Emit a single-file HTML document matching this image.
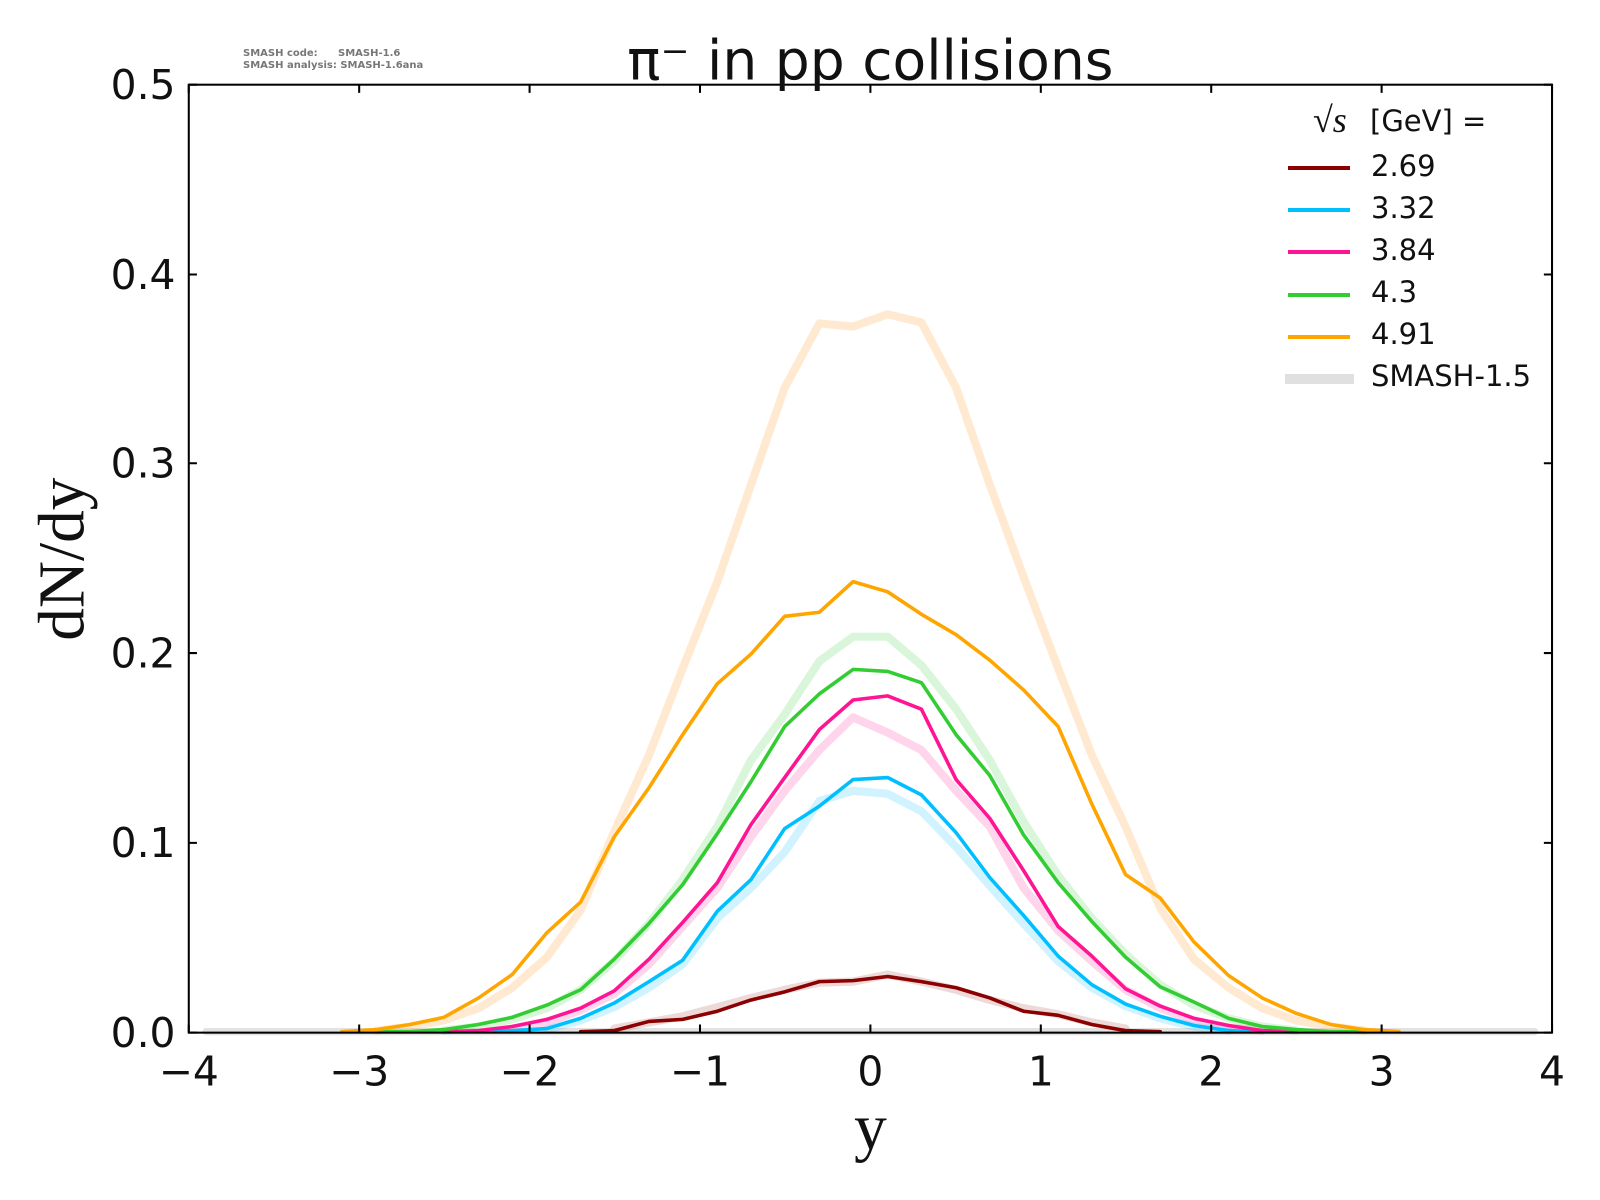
<!DOCTYPE html>
<html><head><meta charset="utf-8"><style>body{margin:0;background:#fff}svg{display:block}</style></head><body>
<svg width="1600" height="1200" viewBox="0 0 1600 1200" xmlns="http://www.w3.org/2000/svg" font-family="DejaVu Sans, Liberation Sans, sans-serif">
<rect width="1600" height="1200" fill="#fff"/>
<g transform="scale(1.0204)">
<g fill="none" stroke-linejoin="round" stroke-linecap="round">
<polyline stroke="#e2e2e2" stroke-width="7" points="202,1011 1504,1011"/>
<polyline stroke="#ff8c00" stroke-opacity="0.18" stroke-width="8" points="369,1010 402,1006 435,1000 469,988 502,968 536,938 569,892 602,815 636,740 669,655 703,570 736,475 769,380 803,317 836,320 870,308 903,316 937,380 970,475 1003,565 1037,655 1070,740 1103,810 1137,890 1170,940 1204,968 1237,988 1270,1000 1304,1006 1337,1010"/>
<polyline stroke="#32cd32" stroke-opacity="0.18" stroke-width="8" points="435,1010 469,1006 502,999 536,988 569,970 602,942 636,905 669,862 703,810 736,745 769,700 803,648 836,624 870,624 903,652 937,695 970,745 1003,805 1037,858 1070,900 1103,935 1137,965 1170,985 1204,998 1237,1006 1270,1010"/>
<polyline stroke="#ff1493" stroke-opacity="0.18" stroke-width="8" points="502,1008 536,1002 569,990 602,974 636,945 669,908 703,870 736,820 769,775 803,735 836,703 870,718 903,735 937,775 970,810 1003,870 1037,912 1070,942 1103,970 1137,988 1170,1000 1204,1007 1237,1010"/>
<polyline stroke="#00bfff" stroke-opacity="0.18" stroke-width="8" points="536,1009 569,1000 602,987 636,968 669,945 703,900 736,870 769,835 803,785 836,775 870,778 903,795 937,830 970,868 1003,905 1037,942 1070,968 1103,986 1137,998 1170,1006 1204,1010"/>
<polyline stroke="#8b0000" stroke-opacity="0.15" stroke-width="8" points="602,1008 636,1002 669,996 703,987 736,978 769,970 803,963 836,962 870,955 903,962 937,970 970,980 1003,988 1037,994 1070,1002 1103,1008"/>
<polyline stroke="#8b0000" stroke-width="3.5" points="569,1011 602,1010 636,1001 669,999 703,991 736,980 769,972 803,962 836,961 870,957 903,962 937,968 970,978 1003,991 1037,995 1070,1004 1103,1010 1137,1011"/>
<polyline stroke="#00bfff" stroke-width="3.5" points="469,1011 502,1010 536,1008 569,998 602,983 636,962 669,941 703,893 736,862 769,812 803,790 836,764 870,762 903,779 937,816 970,860 1003,897 1037,937 1070,965 1103,984 1137,996 1170,1005 1204,1010 1237,1011"/>
<polyline stroke="#ff1493" stroke-width="3.5" points="435,1011 469,1010 502,1006 536,999 569,988 602,971 636,940 669,904 703,865 736,808 769,762 803,715 836,686 870,682 903,695 937,764 970,802 1003,853 1037,908 1070,937 1103,969 1137,986 1170,998 1204,1005 1237,1010 1270,1011"/>
<polyline stroke="#32cd32" stroke-width="3.5" points="369,1011 402,1011 435,1009 469,1004 502,997 536,985 569,970 602,940 636,905 669,867 703,817 736,766 769,712 803,680 836,656 870,658 903,669 937,720 970,760 1003,818 1037,865 1070,903 1103,938 1137,967 1170,982 1204,998 1237,1006 1270,1009 1304,1011 1337,1011"/>
<polyline stroke="#ffa500" stroke-width="3.5" points="335,1011 369,1009 402,1004 435,997 469,978 502,955 536,914 569,884 602,820 636,772 669,720 703,670 736,641 769,604 803,600 836,570 870,580 903,602 937,622 970,647 1003,676 1037,712 1070,788 1103,857 1137,880 1170,923 1204,956 1237,978 1270,993 1304,1004 1337,1009 1371,1011"/>
</g>
<rect x="185" y="83" width="1336" height="929" fill="none" stroke="#000" stroke-width="2"/>
<g stroke="#000" stroke-width="2">
<path d="M185,1012v-8M352,1012v-8M519,1012v-8M686,1012v-8M853,1012v-8M1020,1012v-8M1187,1012v-8M1354,1012v-8M1521,1012v-8"/>
<path d="M185,83v8M352,83v8M519,83v8M686,83v8M853,83v8M1020,83v8M1187,83v8M1354,83v8M1521,83v8"/>
<path d="M185,1012h8M185,826h8M185,640h8M185,454h8M185,269h8M185,83h8"/>
<path d="M1521,1012h-8M1521,826h-8M1521,640h-8M1521,454h-8M1521,269h-8M1521,83h-8"/>
</g>
<g font-size="40" fill="#111" text-anchor="middle">
<text x="185" y="1064">−4</text><text x="352" y="1064">−3</text><text x="519" y="1064">−2</text><text x="686" y="1064">−1</text><text x="853" y="1064">0</text><text x="1020" y="1064">1</text><text x="1187" y="1064">2</text><text x="1354" y="1064">3</text><text x="1521" y="1064">4</text>
</g>
<g font-size="40" fill="#111" text-anchor="end">
<text x="172" y="1026">0.0</text><text x="172" y="840">0.1</text><text x="172" y="654">0.2</text><text x="172" y="468">0.3</text><text x="172" y="283">0.4</text><text x="172" y="97">0.5</text>
</g>
<text x="853" y="1126" font-family="Liberation Serif, serif" font-size="64" text-anchor="middle" fill="#111">y</text>
<text transform="translate(82,548) rotate(-90)" font-family="Liberation Serif, serif" font-size="64" text-anchor="middle" fill="#111">dN/dy</text>
<text x="853" y="78" font-size="54" text-anchor="middle" fill="#111">π⁻ in pp collisions</text>
</g>
<g font-size="10" fill="#777" font-weight="bold">
<text x="243" y="56">SMASH code:</text><text x="338" y="56">SMASH-1.6</text>
<text x="243" y="68">SMASH analysis: SMASH-1.6ana</text>
</g>
<g font-size="29" fill="#111">
<text x="1313" y="132" font-family="Liberation Serif, serif" font-style="italic" font-size="36">√s</text>
<text x="1370" y="131">[GeV] =</text>
<text x="1371" y="176">2.69</text><text x="1371" y="218">3.32</text><text x="1371" y="260">3.84</text><text x="1371" y="302">4.3</text><text x="1371" y="344">4.91</text><text x="1371" y="386">SMASH-1.5</text>
</g>
<g stroke-width="4">
<path d="M1288,168h62" stroke="#8b0000"/><path d="M1288,210h62" stroke="#00bfff"/><path d="M1288,252h62" stroke="#ff1493"/><path d="M1288,295h62" stroke="#32cd32"/><path d="M1288,337h62" stroke="#ffa500"/>
<path d="M1285,379h69" stroke="#e0e0e0" stroke-width="10"/>
</g>
</svg>
</body></html>
